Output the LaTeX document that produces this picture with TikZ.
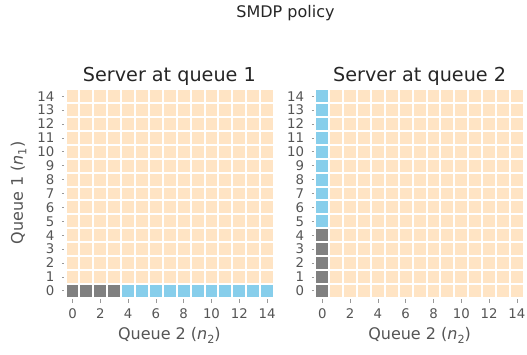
\documentclass[tikz,border=0pt]{standalone}
\usepackage{fontspec}
\setmainfont{DejaVu Sans}
\definecolor{bisq}{HTML}{FFE4C4}
\definecolor{sky}{HTML}{87CEEB}
\definecolor{grayc}{HTML}{808080}
\definecolor{ticktext}{HTML}{555555}
\definecolor{tickmark}{HTML}{999999}
\definecolor{titletext}{HTML}{262626}
\newcommand{\subn}[1]{\textit{n}\raisebox{-0.22em}{\fontsize{11.2}{11.2}\selectfont #1}}
\tikzset{
  ticklab/.style={font=\fontsize{13.3}{13.3}\selectfont, text=ticktext, inner sep=0pt},
  axlab/.style={font=\fontsize{16}{16}\selectfont, text=ticktext, inner sep=0pt},
  paneltitle/.style={font=\fontsize{19.2}{19.2}\selectfont, text=titletext, inner sep=0pt, anchor=base},
  suptitle/.style={font=\fontsize{16}{16}\selectfont, text=titletext, inner sep=0pt, anchor=base},
  tickline/.style={draw=tickmark, line width=0.8pt},
}
\begin{document}
\begin{tikzpicture}[x=1pt,y=1pt]
\useasboundingbox (0,0) rectangle (527,354);
\def\p{13.9}
\def\hs{5.95}
\def\yz{63.2}
% ---------- left panel ----------
\def\xl{72.5}
\foreach \i in {0,...,14}{
  \foreach \j in {0,...,14}{
    \pgfmathsetmacro{\cx}{\xl+\i*\p}
    \pgfmathsetmacro{\cy}{\yz+\j*\p}
    \ifnum\j=0
      \ifnum\i<4 \def\cc{grayc}\else \def\cc{sky}\fi
    \else \def\cc{bisq}\fi
    \fill[\cc] (\cx-\hs,\cy-\hs) rectangle (\cx+\hs,\cy+\hs);
  }
}
% ---------- right panel ----------
\def\xr{322.3}
\foreach \i in {0,...,14}{
  \foreach \j in {0,...,14}{
    \pgfmathsetmacro{\cx}{\xr+\i*\p}
    \pgfmathsetmacro{\cy}{\yz+\j*\p}
    \ifnum\i=0
      \ifnum\j<5 \def\cc{grayc}\else \def\cc{sky}\fi
    \else \def\cc{bisq}\fi
    \fill[\cc] (\cx-\hs,\cy-\hs) rectangle (\cx+\hs,\cy+\hs);
  }
}
% ---------- y ticks ----------
\foreach \x in {72.5,322.3}{
  \foreach \j in {0,...,14}{
    \pgfmathsetmacro{\cy}{\yz+\j*\p}
    \pgfmathsetmacro{\ex}{\x-6.95}
    \draw[tickline] (\ex-3.8,\cy) -- (\ex-1.3,\cy);
    \node[ticklab, anchor=east] at (\ex-11,\cy) {\j};
  }
}
% ---------- x ticks ----------
\foreach \x in {72.5,322.3}{
  \foreach \i in {0,2,...,14}{
    \pgfmathsetmacro{\cx}{\x+\i*\p}
    \draw[tickline] (\cx,54.7) -- (\cx,50.7);
    \node[ticklab] at (\cx,40) {\i};
  }
}
% ---------- labels ----------
\node[axlab, anchor=base] (xl1) at (169.4,14.5) {Queue 2 (\subn{2})};
\node[axlab, anchor=base] (xl2) at (419.6,14.5) {Queue 2 (\subn{2})};
\node[axlab, rotate=90] (yl) at (18.5,161) {Queue 1 (\subn{1})};
\node[paneltitle] (t1) at (169.4,272.5) {Server at queue 1};
\node[paneltitle] (t2) at (419.6,272.5) {Server at queue 2};
\node[suptitle] (st) at (285.5,336) {SMDP policy};
\end{tikzpicture}
\end{document}
